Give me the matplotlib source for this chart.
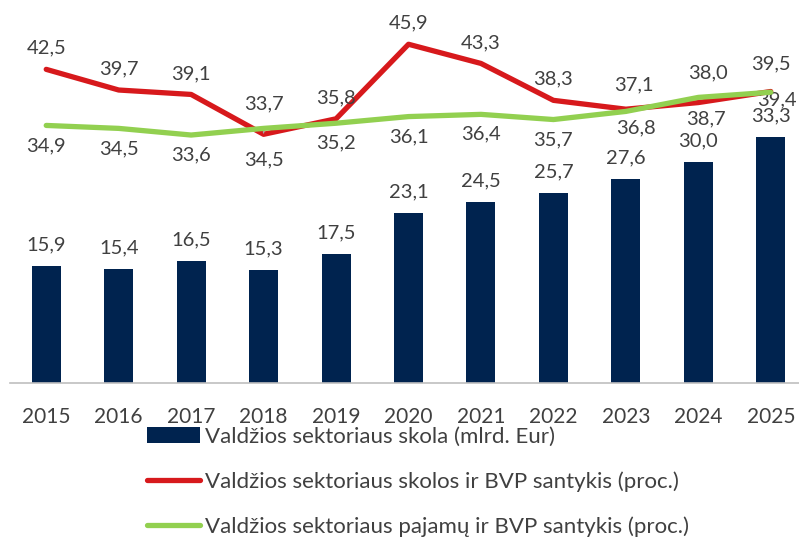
import matplotlib.pyplot as plt

plt.rcParams['font.family'] = ['Lato', 'DejaVu Sans']

years = ["2015", "2016", "2017", "2018", "2019", "2020", "2021", "2022", "2023", "2024", "2025"]
debt = [15.9, 15.4, 16.5, 15.3, 17.5, 23.1, 24.5, 25.7, 27.6, 30.0, 33.3]
debt_gdp = [42.5, 39.7, 39.1, 33.7, 35.8, 45.9, 43.3, 38.3, 37.1, 38.0, 39.5]
revenue_gdp = [34.9, 34.5, 33.6, 34.5, 35.2, 36.1, 36.4, 35.7, 36.8, 38.7, 39.4]

navy = "#00234F"
red = "#D7191C"
green = "#92D050"
txt = "#404040"

def fmt(v):
    return f"{v:.1f}".replace(".", ",")

fig = plt.figure(figsize=(7.99, 5.44), dpi=100)
ax = fig.add_axes([10 / 799, 161 / 544, 797 / 799, 369 / 544])

x = list(range(len(years)))
bars = ax.bar(x, debt, width=0.40, color=navy, label="Valdžios sektoriaus skola (mlrd. Eur)", zorder=2)
l_red, = ax.plot(x, debt_gdp, color=red, lw=3.8, solid_capstyle="round",
                 label="Valdžios sektoriaus skolos ir BVP santykis (proc.)", zorder=3)
l_green, = ax.plot(x, revenue_gdp, color=green, lw=3.8, solid_capstyle="round",
                   label="Valdžios sektoriaus pajamų ir BVP santykis (proc.)", zorder=4)

ax.set_xlim(-0.5, 10.5)
ax.set_ylim(0, 50)

fs = 14.5
# bar labels
for i, v in enumerate(debt):
    ax.annotate(fmt(v), (i, v), xytext=(0, 21), textcoords="offset pixels",
                ha="center", va="center", fontsize=fs, color=txt)

# red labels (above)
red_off = {3: (0, 30), 8: (8, 24), 9: (10, 30), 10: (0, 28)}
for i, v in enumerate(debt_gdp):
    dx, dy = red_off.get(i, (0, 21))
    if i == 3:
        ax.annotate(fmt(v), (i, v), xytext=(dx, dy), textcoords="offset pixels",
                    ha="center", va="center", fontsize=fs, color=txt,
                    arrowprops=dict(arrowstyle="-", color="#A6A6A6", lw=1,
                                    shrinkA=9, shrinkB=1))
    else:
        ax.annotate(fmt(v), (i, v), xytext=(dx, dy), textcoords="offset pixels",
                    ha="center", va="center", fontsize=fs, color=txt)

# green labels (below)
green_off = {3: (0, -31), 8: (10, -16), 9: (8, -21), 10: (6, -8)}
for i, v in enumerate(revenue_gdp):
    dx, dy = green_off.get(i, (0, -20))
    ax.annotate(fmt(v), (i, v), xytext=(dx, dy), textcoords="offset pixels",
                ha="center", va="center", fontsize=fs, color=txt)

ax.set_xticks(x)
ax.set_xticklabels(years, fontsize=15, color=txt)
ax.tick_params(axis="x", length=0, pad=17)
ax.set_yticks([])
for s in ["top", "right", "left"]:
    ax.spines[s].set_visible(False)
ax.spines["bottom"].set_color("#BFBFBF")
ax.spines["bottom"].set_linewidth(1.2)

fig.legend(handles=[bars, l_red, l_green], loc="upper left",
           bbox_to_anchor=(147 / 799, 1 - 427 / 544),
           frameon=False, fontsize=16, labelcolor=txt, borderpad=0, borderaxespad=0,
           handlelength=2.4, handletextpad=0.22, labelspacing=1.1)

fig.savefig("out.png", dpi=100)
